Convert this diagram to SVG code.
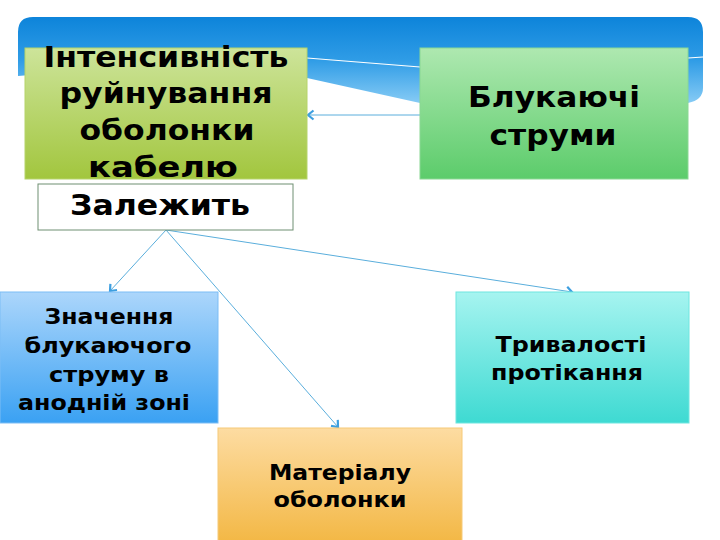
<svg xmlns="http://www.w3.org/2000/svg" width="720" height="540" viewBox="0 0 720 540">
  <defs>
    <linearGradient id="gBanner" x1="0" y1="0" x2="0" y2="1">
      <stop offset="0" stop-color="#0d84da"/>
      <stop offset="0.5" stop-color="#2f9ce6"/>
      <stop offset="1" stop-color="#86cbf5"/>
    </linearGradient>
    <linearGradient id="gA" x1="0" y1="0" x2="0" y2="1">
      <stop offset="0" stop-color="#cde49a"/>
      <stop offset="1" stop-color="#a2c63e"/>
    </linearGradient>
    <linearGradient id="gB" x1="0" y1="0" x2="0" y2="1">
      <stop offset="0" stop-color="#aee8b0"/>
      <stop offset="1" stop-color="#5ccc6b"/>
    </linearGradient>
    <linearGradient id="gC" x1="0" y1="0" x2="0" y2="1">
      <stop offset="0" stop-color="#acd6fb"/>
      <stop offset="1" stop-color="#3aa1f3"/>
    </linearGradient>
    <linearGradient id="gD" x1="0" y1="0" x2="0" y2="1">
      <stop offset="0" stop-color="#fddca2"/>
      <stop offset="1" stop-color="#f3b846"/>
    </linearGradient>
    <linearGradient id="gE" x1="0" y1="0" x2="0" y2="1">
      <stop offset="0" stop-color="#a6f4f0"/>
      <stop offset="1" stop-color="#3edad2"/>
    </linearGradient>
    <marker id="arr" markerWidth="12" markerHeight="12" refX="8" refY="6" orient="auto" markerUnits="userSpaceOnUse">
      <path d="M2.5,1.5 L8,6 L2.5,10.5" fill="none" stroke="#3d9fe0" stroke-width="2.2"/>
    </marker>
  </defs>
  <style>
    text { font-family: "DejaVu Sans", "Liberation Sans", sans-serif; font-weight: bold; fill: #000; text-anchor: middle; }
    .big { font-size: 28.5px; }
    .small { font-size: 21px; }
    .conn { stroke: #5aaedc; stroke-width: 1; fill: none; marker-end: url(#arr); }
  </style>
  <rect width="720" height="540" fill="#ffffff"/>
  <g id="banner">
    <path d="M33,17 H688 Q703,17 703,32 V88 Q703,100 688,103 L420,103 L307,78 Q160,62 18,76 V32 Q18,17 33,17 Z" fill="url(#gBanner)"/>
    <path d="M307,58 L420,67" stroke="#ffffff" stroke-width="1.2" fill="none"/>
    <path d="M688,58 L703,57" stroke="#ffffff" stroke-width="1.2" fill="none"/>
  </g>
  <g id="connectors">
    <line class="conn" x1="420" y1="115" x2="308" y2="115"/>
    <line class="conn" x1="166" y1="230" x2="110" y2="291"/>
    <line class="conn" x1="166" y1="230" x2="338" y2="427"/>
    <line class="conn" x1="166" y1="230" x2="572" y2="292"/>
  </g>
  <g id="node-intensity">
    <rect x="25" y="48" width="282" height="131" fill="url(#gA)" stroke="#b6d46a" stroke-width="1"/>
    <text class="big" x="166" y="67" textLength="245" lengthAdjust="spacingAndGlyphs">Інтенсивність</text>
    <text class="big" x="166" y="103" textLength="213" lengthAdjust="spacingAndGlyphs">руйнування</text>
    <text class="big" x="167" y="140" textLength="175" lengthAdjust="spacingAndGlyphs">оболонки</text>
    <text class="big" x="163" y="177" textLength="150" lengthAdjust="spacingAndGlyphs">кабелю</text>
  </g>
  <g id="node-stray">
    <rect x="420" y="48" width="268" height="131" fill="url(#gB)" stroke="#8ad894" stroke-width="1"/>
    <text class="big" x="554" y="107" textLength="172" lengthAdjust="spacingAndGlyphs">Блукаючі</text>
    <text class="big" x="553" y="145" textLength="127" lengthAdjust="spacingAndGlyphs">струми</text>
  </g>
  <g id="node-depends">
    <rect x="38" y="184" width="255" height="46" fill="#ffffff" stroke="#6f8f72" stroke-width="1"/>
    <text class="big" x="160" y="215" textLength="180" lengthAdjust="spacingAndGlyphs">Залежить</text>
  </g>
  <g id="node-value">
    <rect x="0" y="292" width="218" height="131" fill="url(#gC)" stroke="#7cbdf5" stroke-width="1"/>
    <text class="small" x="109" y="324" textLength="129" lengthAdjust="spacingAndGlyphs">Значення</text>
    <text class="small" x="108" y="353" textLength="167" lengthAdjust="spacingAndGlyphs">блукаючого</text>
    <text class="small" x="109" y="382" textLength="120" lengthAdjust="spacingAndGlyphs">струму в</text>
    <text class="small" x="104" y="410" textLength="172" lengthAdjust="spacingAndGlyphs">анодній зоні</text>
  </g>
  <g id="node-material">
    <rect x="218" y="428" width="244" height="113" fill="url(#gD)" stroke="#f6ca78" stroke-width="1"/>
    <text class="small" x="340" y="480" textLength="142" lengthAdjust="spacingAndGlyphs">Матеріалу</text>
    <text class="small" x="340" y="507" textLength="133" lengthAdjust="spacingAndGlyphs">оболонки</text>
  </g>
  <g id="node-duration">
    <rect x="456" y="292" width="233" height="131" fill="url(#gE)" stroke="#6fe6e0" stroke-width="1"/>
    <text class="small" x="571" y="352" textLength="151" lengthAdjust="spacingAndGlyphs">Тривалості</text>
    <text class="small" x="567" y="380" textLength="152" lengthAdjust="spacingAndGlyphs">протікання</text>
  </g>
</svg>
